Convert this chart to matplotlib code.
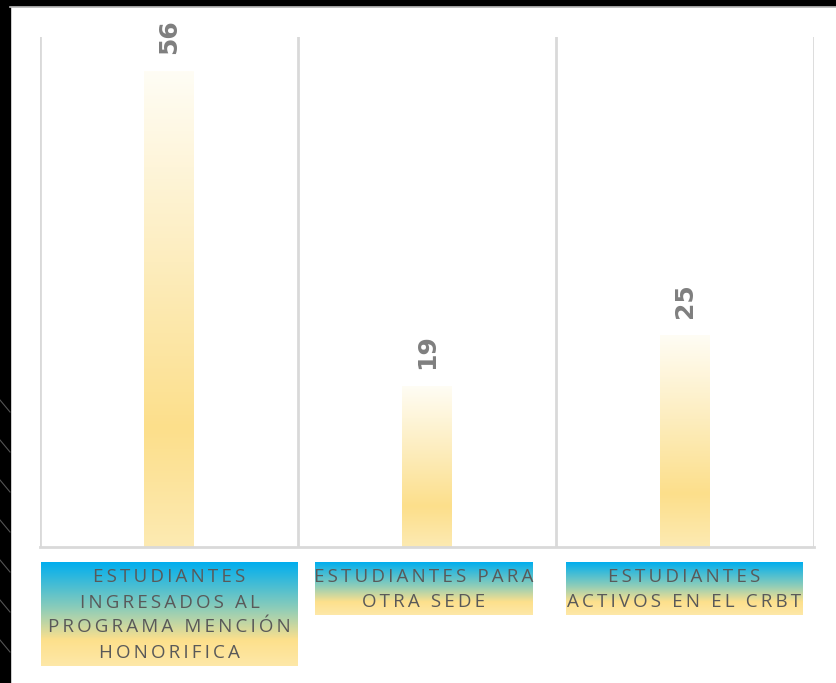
import numpy as np
import matplotlib.pyplot as plt
from matplotlib.colors import LinearSegmentedColormap
from matplotlib.patches import Rectangle

categories = ['ESTUDIANTES\nINGRESADOS AL\nPROGRAMA MENCIÓN\nHONORIFICA',
              'ESTUDIANTES PARA\nOTRA SEDE',
              'ESTUDIANTES\nACTIVOS EN EL CRBT']
values = [56, 19, 25]

W, H = 836, 683
fig = plt.figure(figsize=(W / 100, H / 100), dpi=100)
fig.patch.set_facecolor('white')

# background / decoration layer in pixel coordinates
bg = fig.add_axes([0, 0, 1, 1])
bg.set_xlim(0, W)
bg.set_ylim(H, 0)
bg.axis('off')
bg.add_patch(Rectangle((0, 0), W, 6, color='black', zorder=1))
bg.add_patch(Rectangle((0, 0), 10, H, color='black', zorder=1))
bg.plot([10, W], [6.5, 6.5], color='#BFBFBF', lw=1.2, zorder=2)
for y0 in [400, 440, 480, 520, 560, 600, 640]:
    bg.plot([0, 10], [y0, y0 + 12], color='#555555', lw=0.8, zorder=2)

# main chart
ax = fig.add_axes([40 / W, (H - 547) / H, (814 - 40) / W, (547 - 37) / H])
ax.set_facecolor('none')
x = np.arange(len(values))
bars = ax.bar(x, values, width=0.19, color='none', zorder=3)
ax.set_xlim(-0.5, len(values) - 0.5)
ax.set_ylim(0, 60)
ax.set_xticks([])
ax.set_yticks([])
for s in ['top', 'left', 'right']:
    ax.spines[s].set_visible(False)
ax.spines['bottom'].set_color('#D9D9D9')
ax.spines['bottom'].set_linewidth(2)
for b in np.arange(-0.5, len(values), 1.0):
    ax.axvline(b, color='#D9D9D9', lw=2, zorder=1)

bar_cmap = LinearSegmentedColormap.from_list(
    'bar', [(0, '#FDEAB2'), (0.25, '#FCDF8B'), (0.6, '#FDEDBE'), (1, '#FFFDF5')])
grad = np.linspace(0, 1, 256).reshape(-1, 1)
for rect, v in zip(bars, values):
    x0 = rect.get_x()
    im = ax.imshow(grad, cmap=bar_cmap, aspect='auto', origin='lower',
                   extent=[x0, x0 + rect.get_width(), 0, rect.get_height()],
                   zorder=2)
    im.set_clip_path(rect)
    ax.annotate(str(v), (rect.get_x() + rect.get_width() / 2, v),
                xytext=(0, 12), textcoords='offset points',
                rotation=90, ha='center', va='bottom',
                fontsize=18, fontweight='heavy', color='#7F7F7F',
                family=['DejaVu Sans'])

# category label boxes with blue-to-yellow gradient
box_cmap = LinearSegmentedColormap.from_list(
    'box', [(0, '#00AEEF'), (0.45, '#8FCDB8'), (0.75, '#FDE08C'), (1, '#FEE8A8')])
boxes = [(41, 298, 562, 666), (315, 533, 562, 615), (566, 803, 562, 615)]

TS = '\u2009'


def spaced(s):
    return '\n'.join((TS + ' ' + TS).join(TS.join(w) for w in line.split(' '))
                     for line in s.split('\n'))


for (x0, x1, y0, y1), lab in zip(boxes, categories):
    bg.imshow(grad, cmap=box_cmap, aspect='auto', origin='upper',
              extent=[x0, x1, y1, y0], zorder=3)
    bg.text((x0 + x1) / 2, (y0 + y1) / 2 + 1, spaced(lab), ha='center',
            va='center', fontsize=13.5, color='#595959',
            family=['Open Sans', 'DejaVu Sans'],
            linespacing=1.5, zorder=4)
bg.set_xlim(0, W)
bg.set_ylim(H, 0)

fig.savefig('out.png', dpi=100)
